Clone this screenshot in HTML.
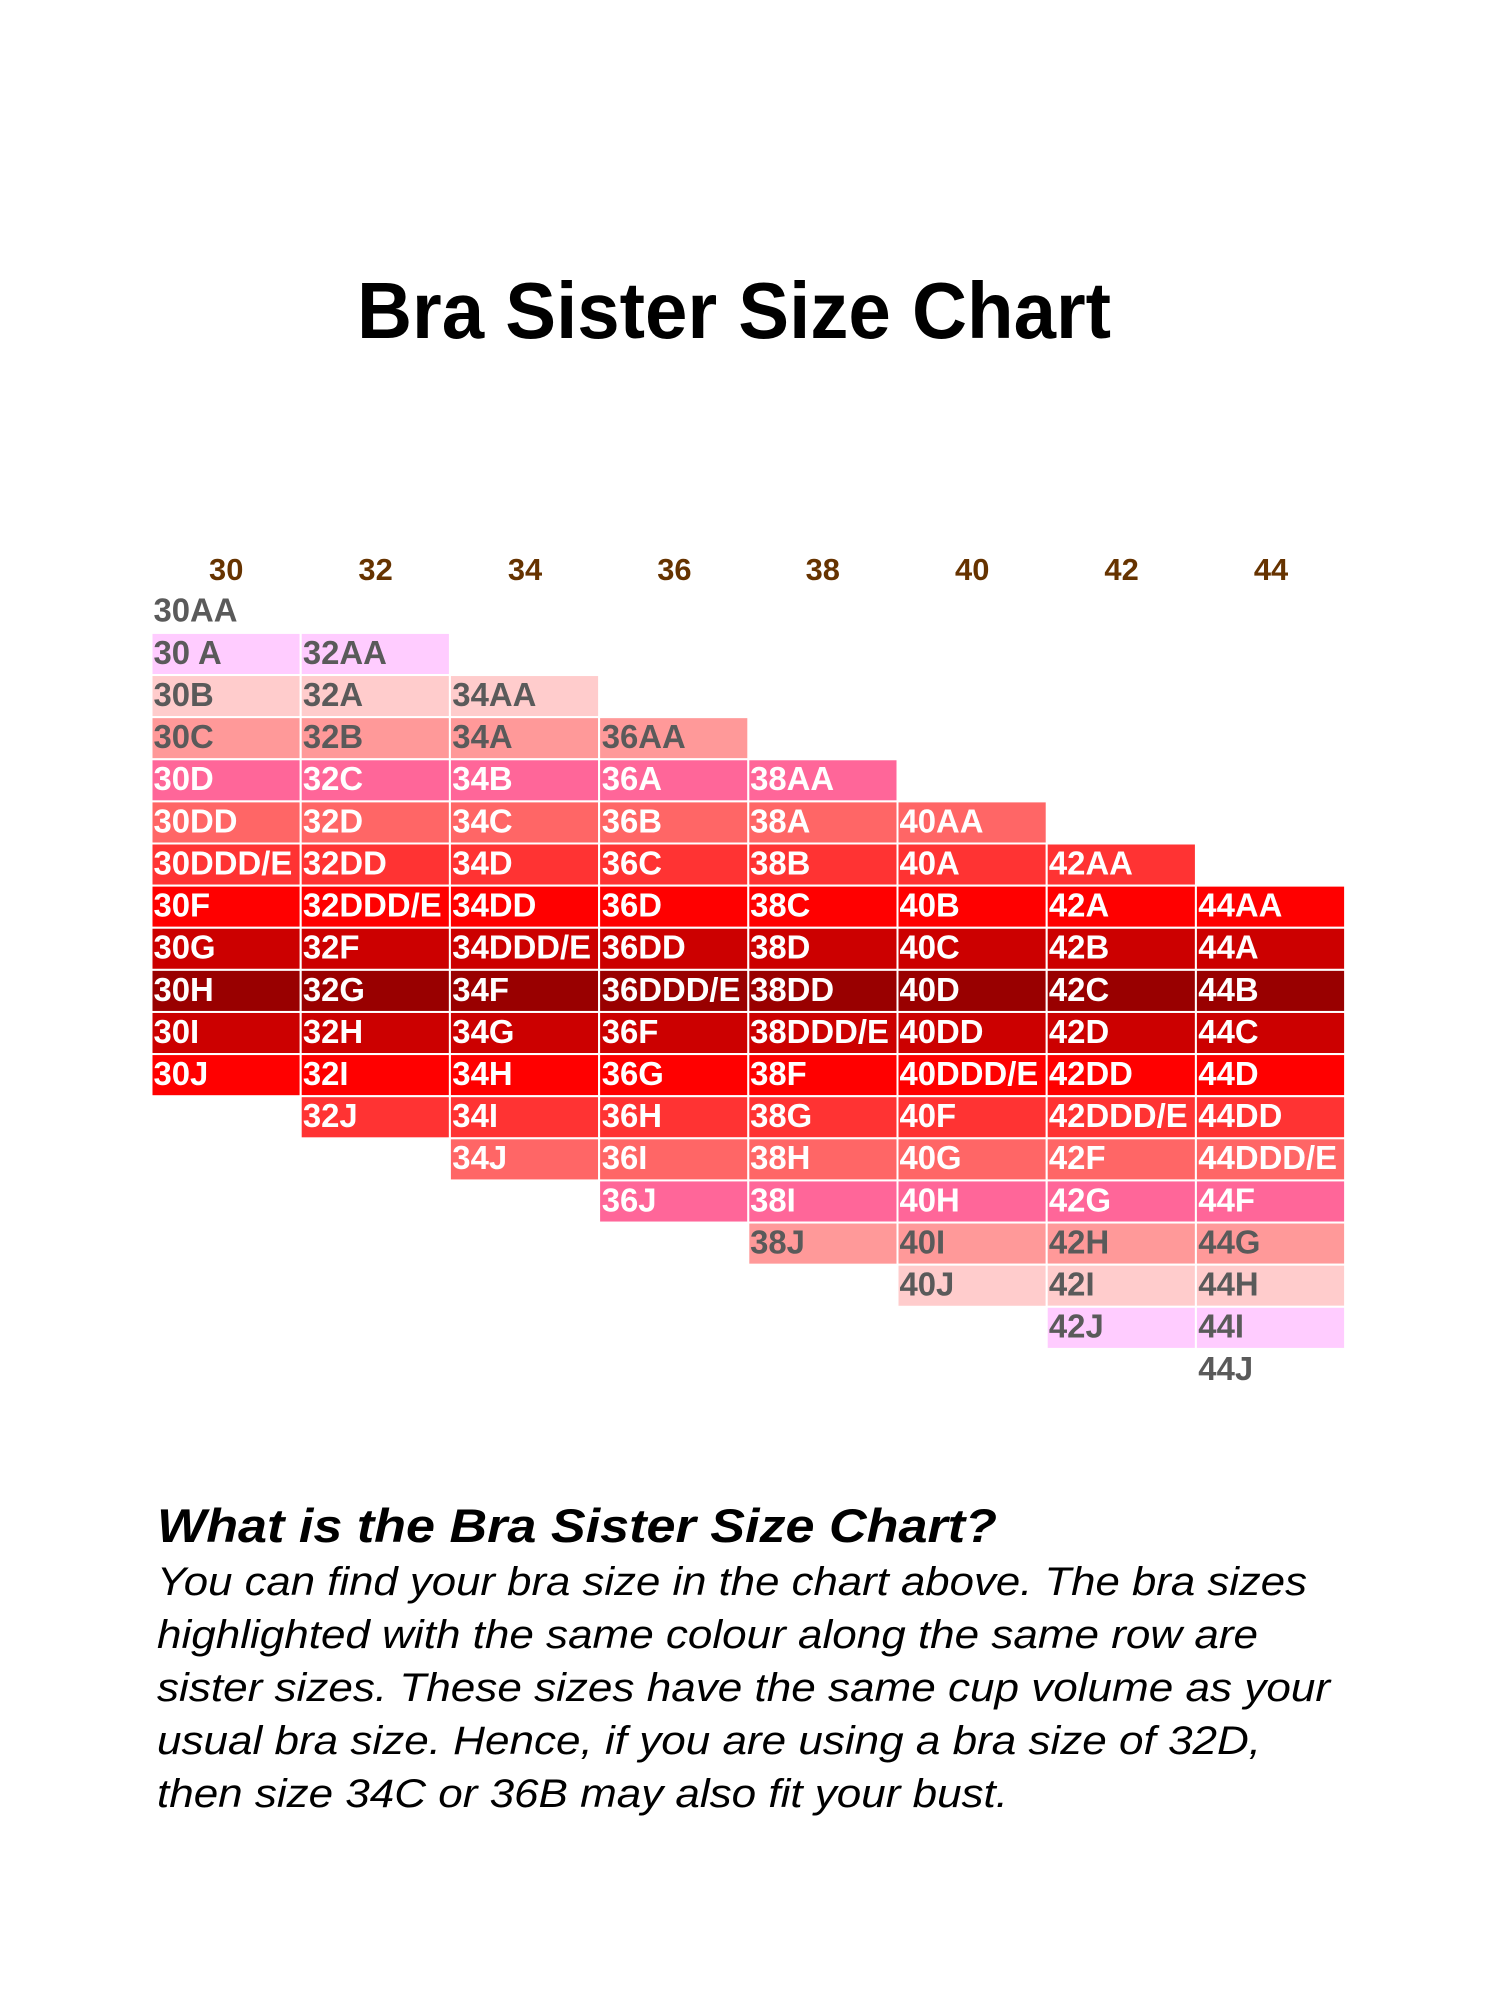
<!DOCTYPE html>
<html><head><meta charset="utf-8"><style>
html,body{margin:0;padding:0;background:#fff;}
svg{display:block;}
.c rect{stroke:#fff;stroke-width:2;}
text{font-family:"Liberation Sans",Arial,sans-serif;}
.t{font-size:33px;font-weight:bold;}
.w{fill:#fff}.g{fill:#5a5a5a}
.h{font-size:31px;font-weight:bold;fill:#663300;text-anchor:middle}
</style></head><body>
<svg width="1500" height="2000" viewBox="0 0 1500 2000" xmlns="http://www.w3.org/2000/svg">
<text x="734" y="338" font-size="80" font-weight="bold" text-anchor="middle" textLength="754" lengthAdjust="spacingAndGlyphs">Bra Sister Size Chart</text>
<g transform="translate(151.5,-1) scale(0.996,1)">
<g class="h">
<text x="75" y="581">30</text><text x="225" y="581">32</text><text x="375" y="581">34</text><text x="525" y="581">36</text><text x="674" y="581">38</text><text x="824" y="581">40</text><text x="974" y="581">42</text><text x="1124" y="581">44</text>
</g>
</g>
<g class="c" transform="translate(151.5,-3) scale(0.996,0.998)">
<g transform="translate(0,595)" class="t g"><text x="2" y="31">30AA</text></g>
<g transform="translate(0,637.2)"><g fill="#FFCCFF"><rect x="0" width="149.8" height="42.2"/><rect x="149.8" width="149.8" height="42.2"/></g>
<g class="t g"><text x="2" y="31">30 A</text><text x="152" y="31">32AA</text></g></g>
<g transform="translate(0,679.4)"><g fill="#FFCCCC"><rect x="0" width="149.8" height="42.2"/><rect x="149.8" width="149.8" height="42.2"/><rect x="299.6" width="149.8" height="42.2"/></g>
<g class="t g"><text x="2" y="31">30B</text><text x="152" y="31">32A</text><text x="302" y="31">34AA</text></g></g>
<g transform="translate(0,721.6)"><g fill="#FF9999"><rect x="0" width="149.8" height="42.2"/><rect x="149.8" width="149.8" height="42.2"/><rect x="299.6" width="149.8" height="42.2"/><rect x="449.4" width="149.8" height="42.2"/></g>
<g class="t g"><text x="2" y="31">30C</text><text x="152" y="31">32B</text><text x="302" y="31">34A</text><text x="452" y="31">36AA</text></g></g>
<g transform="translate(0,763.8)"><g fill="#FF6699"><rect x="0" width="149.8" height="42.2"/><rect x="149.8" width="149.8" height="42.2"/><rect x="299.6" width="149.8" height="42.2"/><rect x="449.4" width="149.8" height="42.2"/><rect x="599.2" width="149.8" height="42.2"/></g>
<g class="t w"><text x="2" y="31">30D</text><text x="152" y="31">32C</text><text x="302" y="31">34B</text><text x="452" y="31">36A</text><text x="601" y="31">38AA</text></g></g>
<g transform="translate(0,806)"><g fill="#FF6666"><rect x="0" width="149.8" height="42.2"/><rect x="149.8" width="149.8" height="42.2"/><rect x="299.6" width="149.8" height="42.2"/><rect x="449.4" width="149.8" height="42.2"/><rect x="599.2" width="149.8" height="42.2"/><rect x="749" width="149.8" height="42.2"/></g>
<g class="t w"><text x="2" y="31">30DD</text><text x="152" y="31">32D</text><text x="302" y="31">34C</text><text x="452" y="31">36B</text><text x="601" y="31">38A</text><text x="751" y="31">40AA</text></g></g>
<g transform="translate(0,848.2)"><g fill="#FF3333"><rect x="0" width="149.8" height="42.2"/><rect x="149.8" width="149.8" height="42.2"/><rect x="299.6" width="149.8" height="42.2"/><rect x="449.4" width="149.8" height="42.2"/><rect x="599.2" width="149.8" height="42.2"/><rect x="749" width="149.8" height="42.2"/><rect x="898.8" width="149.8" height="42.2"/></g>
<g class="t w"><text x="2" y="31">30DDD/E</text><text x="152" y="31">32DD</text><text x="302" y="31">34D</text><text x="452" y="31">36C</text><text x="601" y="31">38B</text><text x="751" y="31">40A</text><text x="901" y="31">42AA</text></g></g>
<g transform="translate(0,890.4)"><g fill="#FF0000"><rect x="0" width="149.8" height="42.2"/><rect x="149.8" width="149.8" height="42.2"/><rect x="299.6" width="149.8" height="42.2"/><rect x="449.4" width="149.8" height="42.2"/><rect x="599.2" width="149.8" height="42.2"/><rect x="749" width="149.8" height="42.2"/><rect x="898.8" width="149.8" height="42.2"/><rect x="1048.6" width="149.8" height="42.2"/></g>
<g class="t w"><text x="2" y="31">30F</text><text x="152" y="31">32DDD/E</text><text x="302" y="31">34DD</text><text x="452" y="31">36D</text><text x="601" y="31">38C</text><text x="751" y="31">40B</text><text x="901" y="31">42A</text><text x="1051" y="31">44AA</text></g></g>
<g transform="translate(0,932.6)"><g fill="#CC0000"><rect x="0" width="149.8" height="42.2"/><rect x="149.8" width="149.8" height="42.2"/><rect x="299.6" width="149.8" height="42.2"/><rect x="449.4" width="149.8" height="42.2"/><rect x="599.2" width="149.8" height="42.2"/><rect x="749" width="149.8" height="42.2"/><rect x="898.8" width="149.8" height="42.2"/><rect x="1048.6" width="149.8" height="42.2"/></g>
<g class="t w"><text x="2" y="31">30G</text><text x="152" y="31">32F</text><text x="302" y="31">34DDD/E</text><text x="452" y="31">36DD</text><text x="601" y="31">38D</text><text x="751" y="31">40C</text><text x="901" y="31">42B</text><text x="1051" y="31">44A</text></g></g>
<g transform="translate(0,974.8)"><g fill="#990000"><rect x="0" width="149.8" height="42.2"/><rect x="149.8" width="149.8" height="42.2"/><rect x="299.6" width="149.8" height="42.2"/><rect x="449.4" width="149.8" height="42.2"/><rect x="599.2" width="149.8" height="42.2"/><rect x="749" width="149.8" height="42.2"/><rect x="898.8" width="149.8" height="42.2"/><rect x="1048.6" width="149.8" height="42.2"/></g>
<g class="t w"><text x="2" y="31">30H</text><text x="152" y="31">32G</text><text x="302" y="31">34F</text><text x="452" y="31">36DDD/E</text><text x="601" y="31">38DD</text><text x="751" y="31">40D</text><text x="901" y="31">42C</text><text x="1051" y="31">44B</text></g></g>
<g transform="translate(0,1017)"><g fill="#CC0000"><rect x="0" width="149.8" height="42.2"/><rect x="149.8" width="149.8" height="42.2"/><rect x="299.6" width="149.8" height="42.2"/><rect x="449.4" width="149.8" height="42.2"/><rect x="599.2" width="149.8" height="42.2"/><rect x="749" width="149.8" height="42.2"/><rect x="898.8" width="149.8" height="42.2"/><rect x="1048.6" width="149.8" height="42.2"/></g>
<g class="t w"><text x="2" y="31">30I</text><text x="152" y="31">32H</text><text x="302" y="31">34G</text><text x="452" y="31">36F</text><text x="601" y="31">38DDD/E</text><text x="751" y="31">40DD</text><text x="901" y="31">42D</text><text x="1051" y="31">44C</text></g></g>
<g transform="translate(0,1059.2)"><g fill="#FF0000"><rect x="0" width="149.8" height="42.2"/><rect x="149.8" width="149.8" height="42.2"/><rect x="299.6" width="149.8" height="42.2"/><rect x="449.4" width="149.8" height="42.2"/><rect x="599.2" width="149.8" height="42.2"/><rect x="749" width="149.8" height="42.2"/><rect x="898.8" width="149.8" height="42.2"/><rect x="1048.6" width="149.8" height="42.2"/></g>
<g class="t w"><text x="2" y="31">30J</text><text x="152" y="31">32I</text><text x="302" y="31">34H</text><text x="452" y="31">36G</text><text x="601" y="31">38F</text><text x="751" y="31">40DDD/E</text><text x="901" y="31">42DD</text><text x="1051" y="31">44D</text></g></g>
<g transform="translate(0,1101.4)"><g fill="#FF3333"><rect x="149.8" width="149.8" height="42.2"/><rect x="299.6" width="149.8" height="42.2"/><rect x="449.4" width="149.8" height="42.2"/><rect x="599.2" width="149.8" height="42.2"/><rect x="749" width="149.8" height="42.2"/><rect x="898.8" width="149.8" height="42.2"/><rect x="1048.6" width="149.8" height="42.2"/></g>
<g class="t w"><text x="152" y="31">32J</text><text x="302" y="31">34I</text><text x="452" y="31">36H</text><text x="601" y="31">38G</text><text x="751" y="31">40F</text><text x="901" y="31">42DDD/E</text><text x="1051" y="31">44DD</text></g></g>
<g transform="translate(0,1143.6)"><g fill="#FF6666"><rect x="299.6" width="149.8" height="42.2"/><rect x="449.4" width="149.8" height="42.2"/><rect x="599.2" width="149.8" height="42.2"/><rect x="749" width="149.8" height="42.2"/><rect x="898.8" width="149.8" height="42.2"/><rect x="1048.6" width="149.8" height="42.2"/></g>
<g class="t w"><text x="302" y="31">34J</text><text x="452" y="31">36I</text><text x="601" y="31">38H</text><text x="751" y="31">40G</text><text x="901" y="31">42F</text><text x="1051" y="31">44DDD/E</text></g></g>
<g transform="translate(0,1185.8)"><g fill="#FF6699"><rect x="449.4" width="149.8" height="42.2"/><rect x="599.2" width="149.8" height="42.2"/><rect x="749" width="149.8" height="42.2"/><rect x="898.8" width="149.8" height="42.2"/><rect x="1048.6" width="149.8" height="42.2"/></g>
<g class="t w"><text x="452" y="31">36J</text><text x="601" y="31">38I</text><text x="751" y="31">40H</text><text x="901" y="31">42G</text><text x="1051" y="31">44F</text></g></g>
<g transform="translate(0,1228)"><g fill="#FF9999"><rect x="599.2" width="149.8" height="42.2"/><rect x="749" width="149.8" height="42.2"/><rect x="898.8" width="149.8" height="42.2"/><rect x="1048.6" width="149.8" height="42.2"/></g>
<g class="t g"><text x="601" y="31">38J</text><text x="751" y="31">40I</text><text x="901" y="31">42H</text><text x="1051" y="31">44G</text></g></g>
<g transform="translate(0,1270.2)"><g fill="#FFCCCC"><rect x="749" width="149.8" height="42.2"/><rect x="898.8" width="149.8" height="42.2"/><rect x="1048.6" width="149.8" height="42.2"/></g>
<g class="t g"><text x="751" y="31">40J</text><text x="901" y="31">42I</text><text x="1051" y="31">44H</text></g></g>
<g transform="translate(0,1312.4)"><g fill="#FFCCFF"><rect x="898.8" width="149.8" height="42.2"/><rect x="1048.6" width="149.8" height="42.2"/></g>
<g class="t g"><text x="901" y="31">42J</text><text x="1051" y="31">44I</text></g></g>
<g transform="translate(0,1354.6)" class="t g"><text x="1051" y="31">44J</text></g>
</g>
<text x="157" y="1542" font-size="47" font-weight="bold" font-style="italic" textLength="840" lengthAdjust="spacingAndGlyphs">What is the Bra Sister Size Chart?</text>
<g font-size="40" font-style="italic">
<text x="157" y="1595" textLength="1150" lengthAdjust="spacingAndGlyphs">You can find your bra size in the chart above. The bra sizes</text>
<text x="157" y="1648" textLength="1101" lengthAdjust="spacingAndGlyphs">highlighted with the same colour along the same row are</text>
<text x="157" y="1701" textLength="1173" lengthAdjust="spacingAndGlyphs">sister sizes. These sizes have the same cup volume as your</text>
<text x="157" y="1754" textLength="1104" lengthAdjust="spacingAndGlyphs">usual bra size. Hence, if you are using a bra size of 32D,</text>
<text x="157" y="1807" textLength="851" lengthAdjust="spacingAndGlyphs">then size 34C or 36B may also fit your bust.</text>
</g>
</svg>
</body></html>
